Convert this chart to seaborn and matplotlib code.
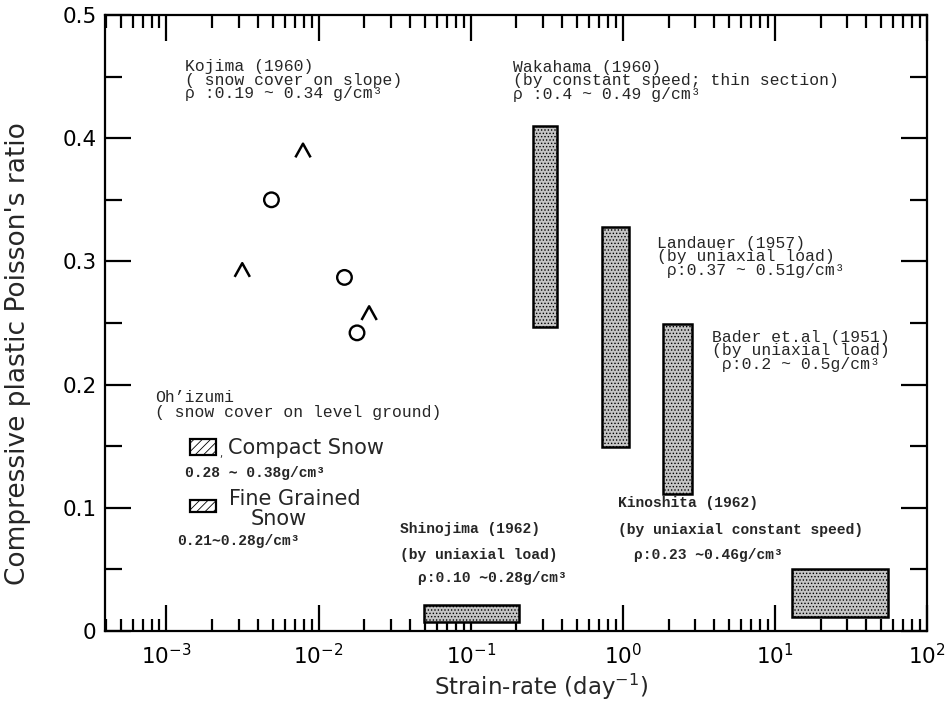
import numpy as np
import pandas as pd
import seaborn as sns
import matplotlib.pyplot as plt
from matplotlib.path import Path
from matplotlib.patches import Rectangle
from matplotlib.ticker import LogLocator, FixedLocator, FixedFormatter, NullFormatter

# Kojima (1960) - snow cover on slope
circle_rate = [0.0049, 0.0148, 0.0179]
circle_ratio = [0.350, 0.287, 0.242]
caret_rate = [0.00315, 0.0079, 0.0215]
caret_ratio = [0.293, 0.390, 0.258]

# ranges reported by the other studies (strain-rate x ratio boxes)
box_names = ["Wakahama", "Landauer", "Bader", "Shinojima", "Kinoshita"]
box_rate_lo = [0.258, 0.73, 1.85, 0.049, 12.9]
box_rate_hi = [0.371, 1.10, 2.83, 0.209, 55.0]
box_ratio_lo = [0.247, 0.149, 0.111, 0.007, 0.011]
box_ratio_hi = [0.410, 0.328, 0.249, 0.021, 0.050]

y_ticks = [0, 0.1, 0.2, 0.3, 0.4, 0.5]
y_tick_labels = ["0", "0.1", "0.2", "0.3", "0.4", "0.5"]

sns.set_style("white")
plt.rcParams["font.family"] = ["DejaVu Sans"]
plt.rcParams["hatch.linewidth"] = 0.6
plt.rcParams["mathtext.fontset"] = "dejavusans"

MONO = ["Liberation Mono", "DejaVu Sans Mono", "DejaVu Sans"]

fig = plt.figure(figsize=(9.51, 7.02), dpi=100)
ax = fig.add_axes([105 / 951, 1 - 631 / 702, 822 / 951, 616 / 702])

# boxes
boxes = pd.DataFrame({"name": box_names, "lo": box_rate_lo, "hi": box_rate_hi,
                      "blo": box_ratio_lo, "bhi": box_ratio_hi})
ax.bar(boxes["lo"], boxes["bhi"] - boxes["blo"], width=boxes["hi"] - boxes["lo"],
       bottom=boxes["blo"], align="edge", facecolor="#c4c4c4", edgecolor="black",
       linewidth=1.8, hatch=".....", zorder=2)

# Kojima points
pts_o = pd.DataFrame({"rate": circle_rate, "ratio": circle_ratio})
pts_c = pd.DataFrame({"rate": caret_rate, "ratio": caret_ratio})
sns.scatterplot(data=pts_o, x="rate", y="ratio", marker="o", s=110, ax=ax, zorder=3)
ax.collections[-1].set_facecolor("none")
ax.collections[-1].set_edgecolor("black")
ax.collections[-1].set_linewidth(1.7)
caret = Path([(-1, -0.9), (0, 0.9), (1, -0.9)], [Path.MOVETO, Path.LINETO, Path.LINETO])
sns.scatterplot(data=pts_c, x="rate", y="ratio", marker=caret, s=120, ax=ax, zorder=3)
ax.collections[-1].set_facecolor("none")
ax.collections[-1].set_edgecolor("black")
ax.collections[-1].set_linewidth(1.8)

ax.set_xscale("log")
ax.set_xlim(10 ** -3.404, 100)
ax.set_ylim(0, 0.5)
ax.xaxis.set_major_locator(LogLocator(base=10, numticks=20))
ax.xaxis.set_minor_locator(LogLocator(base=10, subs=np.arange(2, 10), numticks=20))
ax.xaxis.set_minor_formatter(NullFormatter())
ax.yaxis.set_major_locator(FixedLocator(y_ticks))
ax.yaxis.set_major_formatter(FixedFormatter(y_tick_labels))
ax.yaxis.set_minor_locator(FixedLocator([0.05, 0.15, 0.25, 0.35, 0.45]))

ax.tick_params(which="both", direction="in", bottom=True, left=True, top=True, right=True,
               width=1.6, colors="black")
ax.tick_params(which="major", length=19, labelsize=15.5)
ax.tick_params(axis="x", which="major", pad=9)
ax.tick_params(axis="y", which="major", pad=6)
ax.tick_params(axis="x", which="minor", length=9)
ax.tick_params(axis="y", which="minor", length=12)
for s in ax.spines.values():
    s.set_linewidth(1.6)
    s.set_color("black")

ax.set_xlabel("Strain-rate (day$^{-1}$)", fontsize=16.5)
ax.set_ylabel("Compressive plastic Poisson's ratio", fontsize=19)
ax.xaxis.set_label_coords(0.53, -0.066)
ax.yaxis.set_label_coords(-0.09, 0.45)


def put(x, y, s, **kw):
    fig.text(x / 951, 1 - y / 702, s, va="center", ha="left", **kw)


def mono(x, y, lines, gap=0.88):
    put(x, y, "\n".join(lines), family=MONO, fontsize=11.8, linespacing=gap)


def bold(x, y, s):
    put(x, y, s, family=MONO, fontsize=10.5, fontweight="bold")


mono(185, 80, ["Kojima (1960)", "( snow cover on slope)", "ρ :0.19 ~ 0.34 g/cm³"])
mono(513, 81, ["Wakahama (1960)", "(by constant speed; thin section)", "ρ :0.4 ~ 0.49 g/cm³"])
mono(657, 257, ["Landauer (1957)", "(by uniaxial load)", " ρ:0.37 ~ 0.51g/cm³"])
mono(712, 351, ["Bader et.al (1951)", "(by uniaxial load)", " ρ:0.2 ~ 0.5g/cm³"])
mono(155, 405, ["Oh’izumi", "( snow cover on level ground)"], gap=0.95)

fig.add_artist(Rectangle((190 / 951, 1 - 455 / 702), 26 / 951, 16 / 702,
                         transform=fig.transFigure, facecolor="white",
                         edgecolor="black", linewidth=1.6, hatch="////"))
fig.add_artist(Rectangle((190 / 951, 1 - 512 / 702), 26 / 951, 12 / 702,
                         transform=fig.transFigure, facecolor="white",
                         edgecolor="black", linewidth=1.6, hatch="////"))
put(219, 454, ",", fontsize=7)
put(228, 448, "Compact Snow", fontsize=15)
bold(185, 473, "0.28 ∼ 0.38g/cm³")
put(229, 499, "Fine Grained", fontsize=15)
put(251, 519, "Snow", fontsize=15)
bold(177, 541, "0.21∼0.28g/cm³")

bold(400, 529, "Shinojima (1962)")
bold(400, 555, "(by uniaxial load)")
bold(418, 578, "ρ:0.10 ∼0.28g/cm³")

bold(618, 503, "Kinoshita (1962)")
bold(618, 530, "(by uniaxial constant speed)")
bold(634, 555, "ρ:0.23 ∼0.46g/cm³")

fig.savefig("out.png", dpi=100)
